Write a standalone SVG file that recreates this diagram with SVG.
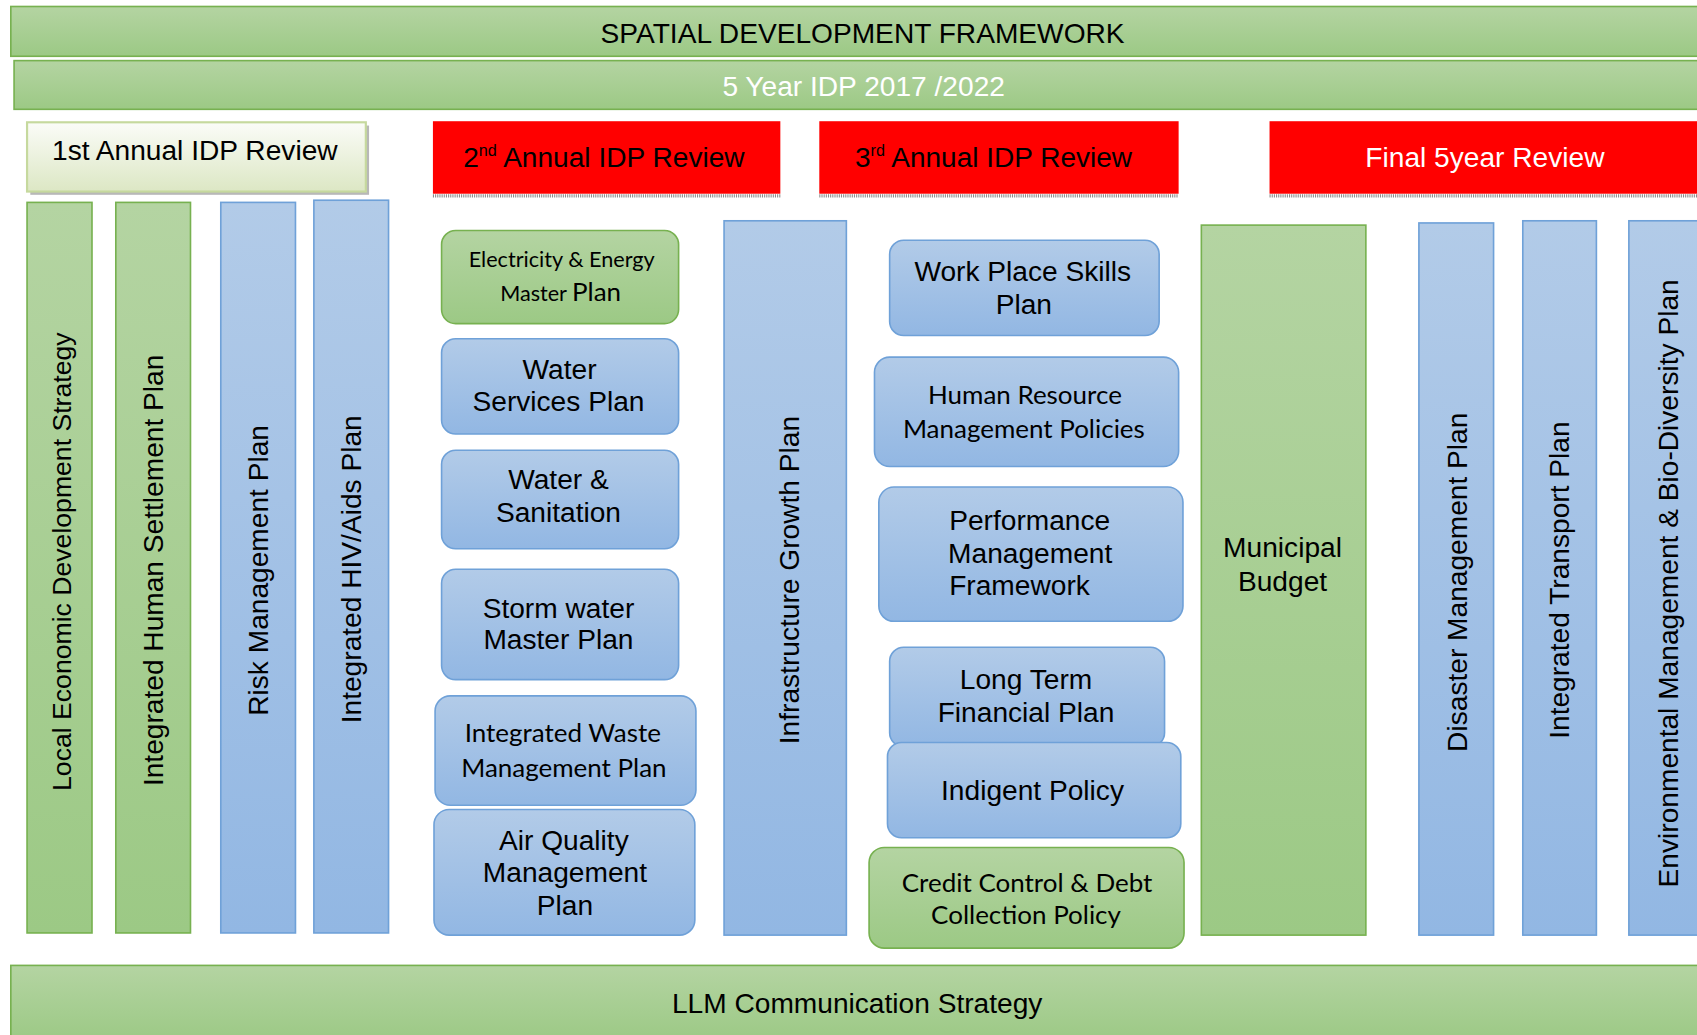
<svg xmlns="http://www.w3.org/2000/svg" width="1697" height="1035" viewBox="0 0 1697 1035">
<defs>
<linearGradient id="gGreen" x1="0" y1="0" x2="0" y2="1"><stop offset="0" stop-color="#b4d4a2"/><stop offset="1" stop-color="#9cc985"/></linearGradient>
<linearGradient id="gBlue" x1="0" y1="0" x2="0" y2="1"><stop offset="0" stop-color="#b2cbe8"/><stop offset="1" stop-color="#92b7e3"/></linearGradient>
<linearGradient id="gPale" x1="0" y1="0" x2="0" y2="1"><stop offset="0" stop-color="#fbfcf8"/><stop offset="1" stop-color="#dce7c4"/></linearGradient>
<style>
.gr{fill:url(#gGreen);stroke:#77b150;stroke-width:1.5}
.bl{fill:url(#gBlue);stroke:#6fa1d8;stroke-width:1.5}
.red{fill:#ff0000}
.sh{fill:none;stroke:#8a8a8a;stroke-width:3;stroke-dasharray:1 1}
.a{font-family:"Liberation Sans",Arial,sans-serif;font-size:26px;fill:#000;text-anchor:middle}
.c{font-family:Lato,"Open Sans",sans-serif;font-size:24px;fill:#000;text-anchor:middle}
.l{text-anchor:start}
.w{fill:#fff}
</style>
</defs>
<g transform="scale(1.0823)">
<g id="spatial-framework">
<rect class="gr" x="10" y="6" width="1600" height="46"/>
<text class="a" x="797" y="40">SPATIAL DEVELOPMENT FRAMEWORK</text>
</g>
<g id="idp-5year">
<rect class="gr" x="13" y="56" width="1600" height="45"/>
<text class="a w" x="798" y="89">5 Year IDP 2017 /2022</text>
</g>
<g id="review-1">
<rect x="28" y="116" width="313" height="64" fill="#b8b8b8"/>
<rect x="25" y="113" width="313" height="64" fill="url(#gPale)" stroke="#c6d99e" stroke-width="2"/>
<text class="a" x="180" y="148">1st Annual IDP Review</text>
</g>
<g id="review-2">
<rect class="red" x="400" y="112" width="321" height="67"/>
<line class="sh" x1="400" y1="181" x2="721" y2="181"/>
<text class="a" x="558" y="154" textLength="260" lengthAdjust="spacingAndGlyphs">2<tspan font-size="15" dy="-10">nd</tspan><tspan dy="10"> Annual IDP Review</tspan></text>
</g>
<g id="review-3">
<rect class="red" x="757" y="112" width="332" height="67"/>
<line class="sh" x1="757" y1="181" x2="1089" y2="181"/>
<text class="a" x="918" y="154" textLength="256" lengthAdjust="spacingAndGlyphs">3<tspan font-size="15" dy="-10">rd</tspan><tspan dy="10"> Annual IDP Review</tspan></text>
</g>
<g id="review-final">
<rect class="red" x="1173" y="112" width="430" height="67"/>
<line class="sh" x1="1173" y1="181" x2="1603" y2="181"/>
<text class="a w" x="1372" y="154">Final 5year Review</text>
</g>

<g id="led-strategy">
<rect class="gr" x="25" y="187" width="60" height="675"/>
<text class="a" style="font-size:24.6px" transform="translate(66,519) rotate(-90)">Local Economic Development Strategy</text>
</g>
<g id="human-settlement">
<rect class="gr" x="107" y="187" width="69" height="675"/>
<text class="a" transform="translate(151,527) rotate(-90)">Integrated Human Settlement Plan</text>
</g>
<g id="risk-management">
<rect class="bl" x="204" y="187" width="69" height="675"/>
<text class="a" transform="translate(248,527) rotate(-90)">Risk Management Plan</text>
</g>
<g id="hiv-aids">
<rect class="bl" x="290" y="185" width="69" height="677"/>
<text class="a" transform="translate(334,526) rotate(-90)">Integrated HIV/Aids Plan</text>
</g>

<g id="electricity">
<rect class="gr" x="408" y="213" width="219" height="86" rx="13"/>
<text class="c" style="font-size:20px" x="519" y="247">Electricity &amp; Energy</text>
<text class="c" style="font-size:20px" x="518" y="278">Master <tspan style="font-size:24px">Plan</tspan></text>
</g>
<g id="water-services">
<rect class="bl" x="408" y="313" width="219" height="88" rx="13"/>
<text class="a" x="517" y="350">Water</text>
<text class="a" x="516" y="380">Services Plan</text>
</g>
<g id="water-sanitation">
<rect class="bl" x="408" y="416" width="219" height="91" rx="13"/>
<text class="a" x="516" y="452">Water &amp;</text>
<text class="a" x="516" y="482">Sanitation</text>
</g>
<g id="storm-water">
<rect class="bl" x="408" y="526" width="219" height="102" rx="13"/>
<text class="a" x="516" y="571">Storm water</text>
<text class="a" x="516" y="600">Master Plan</text>
</g>
<g id="waste">
<rect class="bl" x="402" y="643" width="241" height="101" rx="14"/>
<text class="c" x="520" y="686">Integrated Waste</text>
<text class="c" x="521" y="718">Management Plan</text>
</g>
<g id="air-quality">
<rect class="bl" x="401" y="748" width="241" height="116" rx="14"/>
<text class="a" x="521" y="785">Air Quality</text>
<text class="a" x="522" y="815">Management</text>
<text class="a" x="522" y="845">Plan</text>
</g>

<g id="infrastructure">
<rect class="bl" x="669" y="204" width="113" height="660"/>
<text class="a" transform="translate(738,536) rotate(-90)">Infrastructure Growth Plan</text>
</g>

<g id="skills-plan">
<rect class="bl" x="822" y="222" width="249" height="88" rx="13"/>
<text class="a" x="945" y="260">Work Place Skills</text>
<text class="a" x="946" y="290">Plan</text>
</g>
<g id="hr-policies">
<rect class="bl" x="808" y="330" width="281" height="101" rx="14"/>
<text class="c" x="947" y="373">Human Resource</text>
<text class="c" x="946" y="405">Management Policies</text>
</g>
<g id="performance">
<rect class="bl" x="812" y="450" width="281" height="124" rx="14"/>
<text class="a l" x="877" y="490">Performance</text>
<text class="a l" x="876" y="520">Management</text>
<text class="a l" x="877" y="550">Framework</text>
</g>
<g id="financial-plan">
<rect class="bl" x="822" y="598" width="254" height="92" rx="13"/>
<text class="a" x="948" y="637">Long Term</text>
<text class="a" x="948" y="667">Financial Plan</text>
</g>
<g id="indigent">
<rect class="bl" x="820" y="686" width="271" height="88" rx="13"/>
<text class="a" x="954" y="739">Indigent Policy</text>
</g>
<g id="credit-control">
<rect class="gr" x="803" y="783" width="291" height="93" rx="14"/>
<text class="c" x="949" y="824">Credit Control &amp;  Debt</text>
<text class="c" x="948" y="854">Collection Policy</text>
</g>

<g id="municipal-budget">
<rect class="gr" x="1110" y="208" width="152" height="656"/>
<text class="a" x="1185" y="515">Municipal</text>
<text class="a" x="1185" y="546">Budget</text>
</g>
<g id="disaster">
<rect class="bl" x="1311" y="206" width="69" height="658"/>
<text class="a" transform="translate(1355,538) rotate(-90)">Disaster Management Plan</text>
</g>
<g id="transport">
<rect class="bl" x="1407" y="204" width="68" height="660"/>
<text class="a" transform="translate(1450,536) rotate(-90)">Integrated Transport Plan</text>
</g>
<g id="environmental">
<rect class="bl" x="1505" y="204" width="100" height="660"/>
<text class="a" transform="translate(1550,539) rotate(-90)">Environmental Management &amp; Bio-Diversity Plan</text>
</g>

<g id="communication">
<rect class="gr" x="10" y="892" width="1600" height="70"/>
<text class="a" x="792" y="936">LLM Communication Strategy</text>
</g>
<g id="connectors"/>
</g>
</svg>
